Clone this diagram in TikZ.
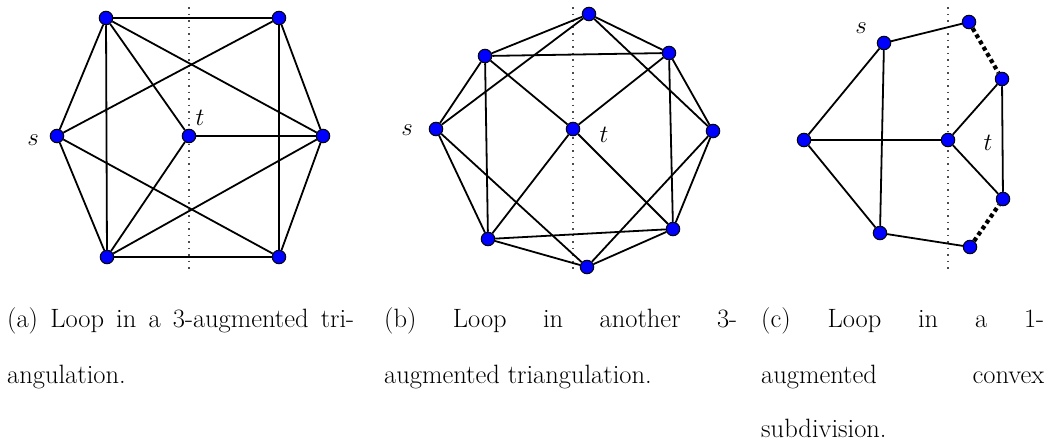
\documentclass[tikz,border=0pt]{standalone}
\begin{document}
\begin{tikzpicture}[x=1pt,y=-1pt,
  vtx/.style={circle,fill=blue,draw=black,line width=1pt,minimum size=13.5pt,inner sep=0pt},
  edge/.style={line width=1.8pt,black},
  axisline/.style={line width=1.7pt,black!70,dash pattern=on 1.7pt off 4.8pt},
  thickdot/.style={line width=4.2pt,black,dash pattern=on 4pt off 3.2pt},
  lab/.style={font=\fontsize{28}{30}\selectfont, inner sep=0pt},
  captext/.style={font=\fontsize{26.5}{30}\selectfont, inner sep=0pt, anchor=base west}]
\useasboundingbox (0,0) rectangle (1050,447);

% ---------- dotted axes ----------
\draw[axisline] (189,7) -- (189,272);
\draw[axisline] (573,7) -- (573,272);
\draw[axisline] (948,7) -- (948,272);

% ---------- (a) ----------
\node[vtx] (aTL) at (106,18) {};
\node[vtx] (aTR) at (279,18) {};
\node[vtx] (as)  at (57,136) {};
\node[vtx] (at)  at (189,136) {};
\node[vtx] (aR)  at (323,136) {};
\node[vtx] (aBL) at (107,257) {};
\node[vtx] (aBR) at (279,257) {};
\node[lab] (asl) at (33,140) {$s$};
\node[lab] (atl) at (200,118) {$t$};
\draw[edge] (aTL) -- (aTR);
\draw[edge] (aTL) -- (as);
\draw[edge] (aTL) -- (aBL);
\draw[edge] (aTL) -- (at);
\draw[edge] (aTL) -- (aR);
\draw[edge] (aTR) -- (as);
\draw[edge] (aTR) -- (aR);
\draw[edge] (aTR) -- (aBR);
\draw[edge] (as) -- (aBL);
\draw[edge] (as) -- (aBR);
\draw[edge] (at) -- (aR);
\draw[edge] (at) -- (aBL);
\draw[edge] (aR) -- (aBL);
\draw[edge] (aR) -- (aBR);
\draw[edge] (aBL) -- (aBR);

% ---------- (b) ----------
\node[vtx] (bT)  at (589,14) {};
\node[vtx] (bUL) at (485,56) {};
\node[vtx] (bUR) at (669,53) {};
\node[vtx] (bs)  at (436,129) {};
\node[vtx] (bt)  at (573,129) {};
\node[vtx] (bR)  at (713,131) {};
\node[vtx] (bLL) at (488,239) {};
\node[vtx] (bLR) at (673,229) {};
\node[vtx] (bB)  at (587,267) {};
\node[lab] (bsl) at (407,130) {$s$};
\node[lab] (btl) at (604,135) {$t$};
\draw[edge] (bT) -- (bUL);
\draw[edge] (bT) -- (bUR);
\draw[edge] (bT) -- (bs);
\draw[edge] (bT) -- (bR);
\draw[edge] (bUL) -- (bUR);
\draw[edge] (bUL) -- (bs);
\draw[edge] (bUL) -- (bLL);
\draw[edge] (bUL) -- (bt);
\draw[edge] (bUR) -- (bt);
\draw[edge] (bUR) -- (bR);
\draw[edge] (bUR) -- (bLR);
\draw[edge] (bs) -- (bLL);
\draw[edge] (bs) -- (bB);
\draw[edge] (bt) -- (bLL);
\draw[edge] (bt) -- (bLR);
\draw[edge] (bR) -- (bLR);
\draw[edge] (bR) -- (bB);
\draw[edge] (bLL) -- (bLR);
\draw[edge] (bLL) -- (bB);
\draw[edge] (bLR) -- (bB);

% ---------- (c) ----------
\node[vtx] (cs)  at (884,43) {};
\node[vtx] (cT)  at (969,22) {};
\node[vtx] (cR1) at (1002,79) {};
\node[vtx] (cL)  at (804,140) {};
\node[vtx] (ct)  at (948,140) {};
\node[vtx] (cR2) at (1003,199) {};
\node[vtx] (cBL) at (880,233) {};
\node[vtx] (cB)  at (970,247) {};
\node[lab] (csl) at (861,28) {$s$};
\node[lab] (ctl) at (988,143) {$t$};
\draw[edge] (cs) -- (cT);
\draw[thickdot] (cT) -- (cR1);
\draw[edge] (cs) -- (cL);
\draw[edge] (cs) -- (cBL);
\draw[edge] (cL) -- (ct);
\draw[edge] (cL) -- (cBL);
\draw[edge] (ct) -- (cR1);
\draw[edge] (ct) -- (cR2);
\draw[edge] (cR1) -- (cR2);
\draw[edge] (cBL) -- (cB);
\draw[thickdot] (cB) -- (cR2);

% ---------- captions ----------
\node[captext] (ca1) at (7,327) {\makebox[347pt][s]{(a) Loop in a 3-augmented tri-}};
\node[captext] (ca2) at (7,383) {angulation.};
\node[captext] (cb1) at (384,327) {\makebox[353pt][s]{(b) Loop in another 3-}};
\node[captext] (cb2) at (384,383) {augmented triangulation.};
\node[captext] (cc1) at (761,327) {\makebox[283pt][s]{(c) Loop in a 1-}};
\node[captext] (cc2) at (761,383) {\makebox[283pt][s]{augmented convex}};
\node[captext] (cc3) at (761,437) {subdivision.};
\end{tikzpicture}
\end{document}
